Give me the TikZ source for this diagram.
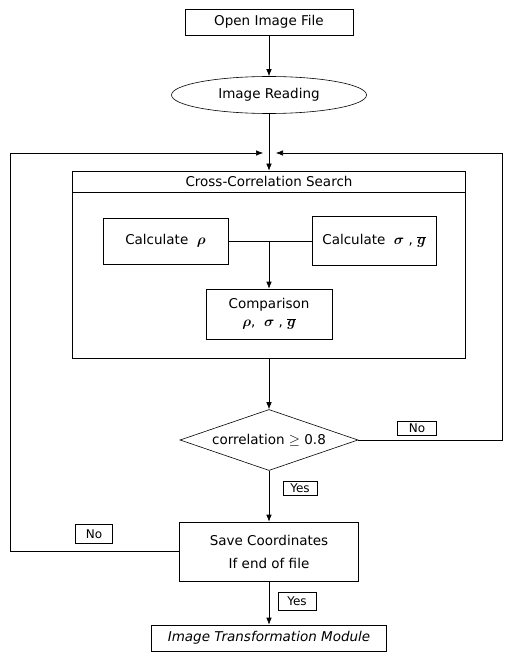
\documentclass[tikz,border=0pt]{standalone}
\usepackage{bm}
\usepackage{fontspec}
\setmainfont{DejaVu Sans}
\usepackage{tikz}
\usetikzlibrary{arrows.meta,shapes.geometric}

\begin{document}
\begin{tikzpicture}[
  x=1pt,y=-1pt,
  font=\fontsize{13.5}{15}\selectfont,
  box/.style={draw,rectangle,inner sep=0pt,align=center,line width=0.6pt},
  tag/.style={draw,inner sep=1pt,font=\fontsize{12}{13}\selectfont,line width=0.6pt},
  line/.style={draw,line width=0.6pt},
  arrow/.style={-{Latex[length=7pt,width=5.5pt]},draw,line width=0.6pt}
]
\useasboundingbox (0,0) rectangle (504,652);

\node[box,minimum width=168pt,minimum height=26pt] (open) at (269,22) {Open Image File};
\node[draw,ellipse,line width=0.6pt,inner sep=0pt,minimum width=195pt,minimum height=37pt] (read) at (269,95) {Image Reading};

\node[box,minimum width=393pt,minimum height=187pt] (search) at (269,264.5) {};
\node (title) at ([yshift=-11pt]search.north) {Cross-Correlation Search};
\node[box,minimum width=125pt,minimum height=46pt] (rho) at (165.5,241) {Calculate~~$\bm{\rho}$};
\node[box,minimum width=124pt,minimum height=49pt] (sig) at (374,241) {Calculate~~$\bm{\sigma}$~,~$\overline{\bm{g}}$};
\node[box,minimum width=126pt,minimum height=50pt] (comp) at (269,314) {Comparison\\[3pt]$\bm{\rho}$,~~$\bm{\sigma}$~,~$\overline{\bm{g}}$};

\node[draw,diamond,shape aspect=2.9,inner sep=0pt,line width=0.6pt,minimum width=178pt,minimum height=61pt] (dec) at (269,440) {correlation~$\geq$~0.8};
\node[box,minimum width=179pt,minimum height=59pt] (save) at (269,551.5) {Save Coordinates\\[8pt]If end of file};
\node[box,minimum width=235pt,minimum height=26pt,font=\fontsize{13.5}{15}\selectfont\itshape] (itm) at (269,638) {Image Transformation Module};

% branch labels
\node[tag,minimum width=39pt,minimum height=14pt] (noright) at (417,428) {No};
\node[tag,minimum width=34pt,minimum height=14pt] (yesdec) at (300,488) {Yes};
\node[tag,minimum width=37pt,minimum height=19pt] (noleft) at (94,534) {No};
\node[tag,minimum width=38pt,minimum height=18pt] (yesend) at (297,601) {Yes};

% loop corners and joins
\coordinate (lft) at (10,153);
\coordinate (rgt) at (502,153);
\coordinate (jl) at (263,153);
\coordinate (jr) at (276,153);

\draw[arrow] (open) -- (read);
\draw[arrow] (read.south) -- (read.south |- search.north);
\draw[line] ([yshift=-22pt]search.north west) -- ([yshift=-22pt]search.north east);
\draw[line] (rho) -- (sig);
\draw[arrow] (comp.north |- rho.east) -- (comp.north);
\draw[arrow] (search.south) -- (dec.north);
\draw[arrow] (dec.south) -- (save.north);
\draw[arrow] (save.south) -- (itm.north);
\draw[arrow] (dec.east) -| (rgt) -- (jr);
\draw[arrow] (save.west) -| (lft) -- (jl);
\end{tikzpicture}
\end{document}
